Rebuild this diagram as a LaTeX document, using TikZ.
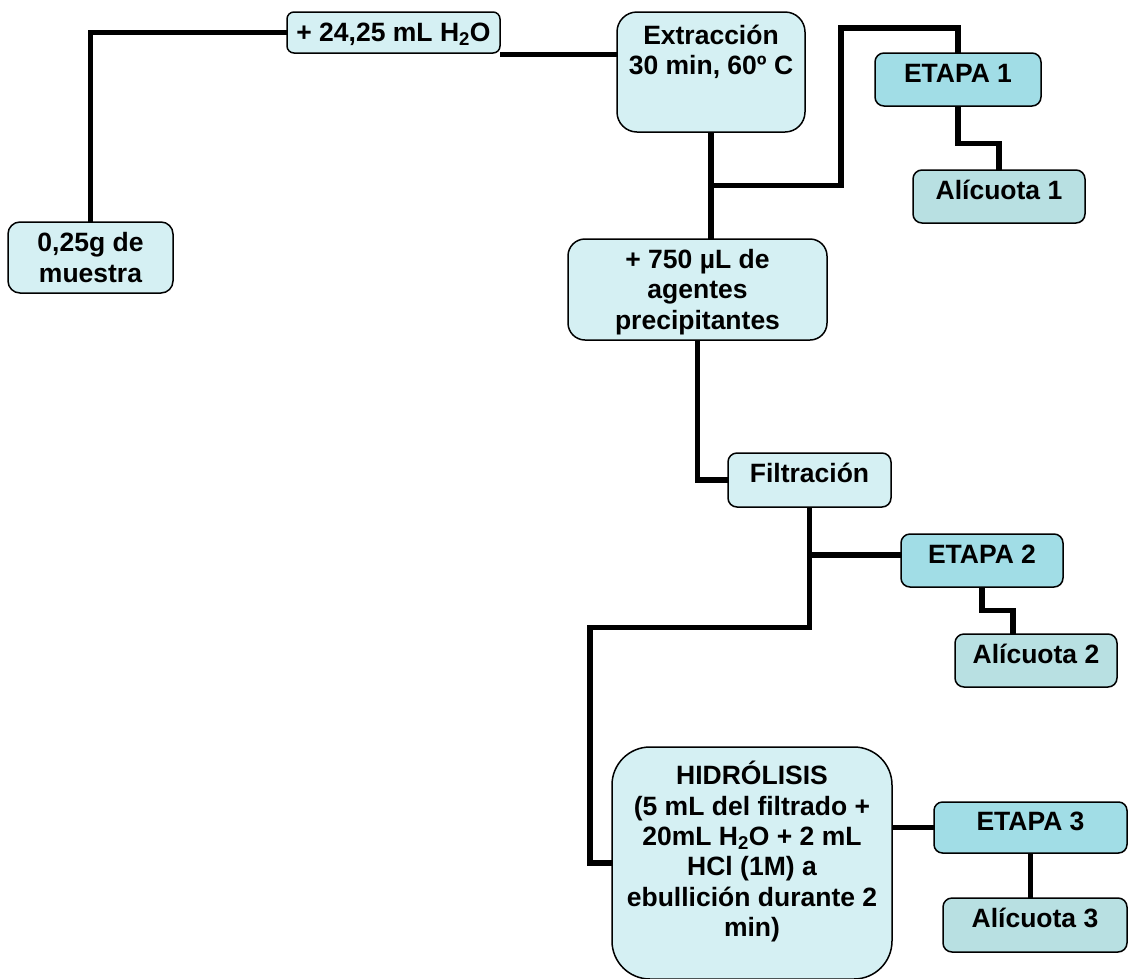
\documentclass[tikz,border=0pt]{standalone}
\usepackage{fontspec}
\setmainfont{Liberation Sans}
\definecolor{lightc}{RGB}{213,240,243}
\definecolor{etapac}{RGB}{161,221,230}
\definecolor{alic}{RGB}{184,224,226}
\newcommand\sT{\rule[-5.8pt]{0pt}{30.4pt}}
\newcommand\bx{\fontsize{26.5}{30.4}\selectfont\bfseries}
\begin{document}
\begin{tikzpicture}[x=1pt,y=-1pt,
  box/.style={draw=black, line width=1.5pt, rounded corners=#1, inner sep=0pt, outer sep=0pt, align=center, anchor=north west, font=\bx},
  lbox/.style={box=#1, fill=lightc},
  ebox/.style={box=#1, fill=etapac},
  abox/.style={box=#1, fill=alic},
  one/.style={text height=15pt, text depth=10pt},
  wire/.style={line width=5.8pt, line join=miter, draw=black},
  txt/.style={font=\bx, align=center, inner sep=0pt, anchor=north}]
\fill[white] (0,0) rectangle (1128,978);
\useasboundingbox (0,0) rectangle (1128,978);
% nodes
\node[lbox=12pt, minimum width=165pt, minimum height=71pt] (muestra) at (8,222) {\sT 0,25g de\\\sT muestra};
\node[lbox=7pt, minimum width=213pt, minimum height=41pt, text height=20pt, text depth=3pt] (h2o) at (287,12) {+ 24,25 mL H\textsubscript{2}O};
\node[lbox=20pt, minimum width=188pt, minimum height=120pt] (ext) at (617,12) {};
\node[txt] (extt) at ([yshift=-7.5pt]ext.north) {\sT Extracción\\\sT 30 min, 60º C};
\node[ebox=9pt, minimum width=166pt, minimum height=53pt, one] (e1) at (875,53) {ETAPA 1};
\node[abox=9pt, minimum width=172pt, minimum height=53pt, one] (a1) at (913,170) {Alícuota 1};
\node[lbox=17pt, minimum width=259pt, minimum height=101pt] (prec) at (568,239) {\sT + 750 µL de\\\sT agentes\\\sT precipitantes};
\node[lbox=9pt, minimum width=163pt, minimum height=54pt, one] (filt) at (728,453) {Filtración};
\node[ebox=9pt, minimum width=162pt, minimum height=53pt, one] (e2) at (901,534) {ETAPA 2};
\node[abox=9pt, minimum width=162pt, minimum height=53pt, one] (a2) at (955,634) {Alícuota 2};
\node[lbox=38pt, minimum width=280pt, minimum height=232pt] (hid) at (612,747) {};
\node[txt] (hidt) at ([yshift=-12.8pt]hid.north) {\sT HIDRÓLISIS\\\sT (5 mL del filtrado +\\\sT 20mL H\textsubscript{2}O + 2 mL\\\sT HCl (1M) a\\\sT ebullición durante 2\\\sT min)};
\node[ebox=8.5pt, minimum width=193pt, minimum height=51pt, one] (e3) at (934,802) {ETAPA 3};
\node[abox=9pt, minimum width=184pt, minimum height=54pt, one] (a3) at (943,898) {Alícuota 3};
% helper coordinates
\coordinate (hw) at ([yshift=-1.5pt]h2o.south east);
\coordinate (y185) at (0,185.5);
\coordinate (y555) at (0,555);
\coordinate (j1) at (ext.south |- y185);
\coordinate (j2) at (filt.south |- y555);
\coordinate (k1) at (841,28);
\coordinate (k2) at (1013,610.5);
\coordinate (k3) at (590,627.5);
% connectors
\draw[wire] (muestra.north) |- (h2o.west);
\draw[wire] (hw) -- (hw -| ext.west);
\draw[wire] (ext.south) -- (ext.south |- prec.north);
\draw[wire] (j1) -| (k1) -| (e1.north);
\draw[wire] (e1.south) |- (999,143.5) -- (a1.north);
\draw[wire] (prec.south) |- (filt.west);
\draw[wire] (j2) -- (j2 -| e2.west);
\draw[wire] (filt.south) |- (k3) |- (hid.west);
\draw[wire] (e2.south) |- (k2) -- (k2 |- a2.north);
\draw[wire] (e3.west) -- (e3.west -| hid.east);
\draw[wire] (e3.south) -- (e3.south |- a3.north);
\end{tikzpicture}
\end{document}
